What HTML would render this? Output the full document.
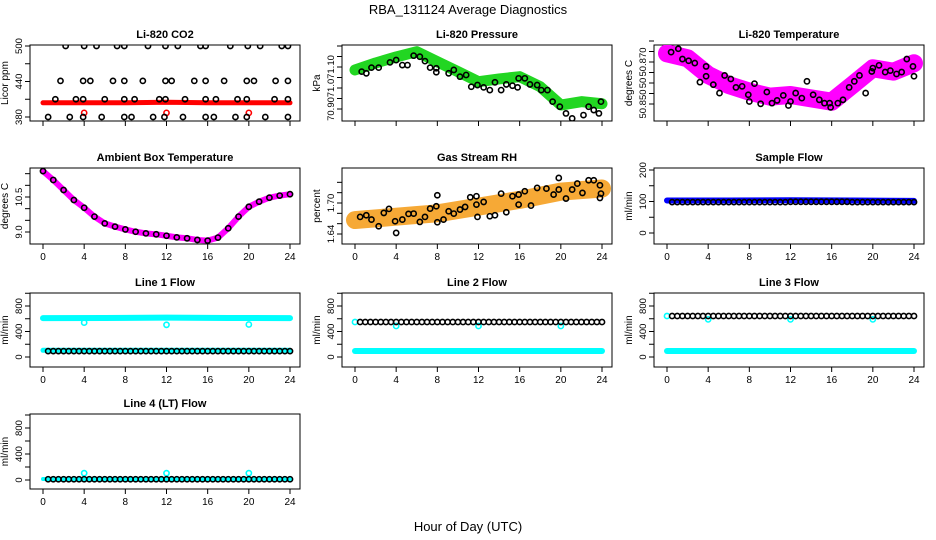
<!DOCTYPE html>
<html><head><meta charset="utf-8"><style>
body{margin:0;background:#fff;width:936px;height:540px;overflow:hidden}
svg{display:block;font-family:"Liberation Sans",sans-serif}
</style></head><body>
<svg id="chart" width="936" height="540" viewBox="0 0 936 540">
<text x="468" y="14" text-anchor="middle" font-size="13">RBA_131124  Average Diagnostics</text>
<text x="468" y="531" text-anchor="middle" font-size="13">Hour of Day (UTC)</text>
</svg>
<script>
// ---- data ----
const xTicks=[0,4,8,12,16,20,24];
const co2T500=[2.2,4.0,5.2,7.2,7.9,10.2,11.9,13.1,15.3,15.8,18.2,19.9,21.1,23.2,23.8];
const co2T440=[1.7,3.9,4.6,6.8,7.9,9.7,11.9,12.5,14.7,15.8,17.6,19.8,20.5,22.6,23.8];
const co2T410=[1.2,3.2,3.9,6.0,7.9,8.9,11.3,11.9,13.8,15.8,16.8,18.9,19.8,22.5,23.8];
const co2T380=[0.5,2.6,3.9,5.7,7.9,8.6,10.7,11.8,13.6,15.8,16.6,18.7,19.8,21.6,23.8];
const co2RedHours=[0,4,8,12,16,20,24];
const co2RedVals=[404,404,404,405,404,404,404];
const co2RedOutT=[4,12,20];
const co2RedOutV=[387,387,387];
const presHours=[0,2,4,6,8,10,12,14,16,18,20,22,24];
const presGreen=[71.086,71.119,71.148,71.173,71.125,71.078,71.030,71.043,71.054,71.006,70.919,70.935,70.925];
const presBlkT=[0.65,1.1,1.6,2.3,3.4,4.0,4.6,5.1,5.7,6.3,6.8,7.3,7.9,7.9,9.1,9.6,10.2,10.8,11.3,11.9,12.5,13.1,13.6,14.2,14.7,15.3,15.8,15.9,16.5,17.0,17.7,18.1,18.7,19.2,19.9,20.5,21.1,22.2,22.7,23.2,23.7,23.9];
const presBlkV=[71.078,71.070,71.097,71.097,71.122,71.133,71.109,71.109,71.154,71.149,71.128,71.097,71.094,71.075,71.070,71.086,71.054,71.062,71.006,71.014,71.003,70.990,71.027,70.990,71.017,71.011,71.003,71.046,71.046,71.017,71.014,70.990,70.990,70.935,70.911,70.879,70.855,70.871,70.911,70.895,70.879,70.935];
const tempHours=[0,2,4,6,8,10,12,14,16,18,20,22,24];
const tempMag=[50.8741,50.8718,50.8638,50.8590,50.8559,50.8535,50.8543,50.8527,50.8511,50.8590,50.8670,50.8654,50.8694];
const tempBlkT=[0.4,1.1,1.5,2.1,2.7,3.2,3.8,3.8,4.5,5.1,5.6,6.2,6.7,7.3,7.9,8.0,8.5,9.1,9.7,10.2,10.7,11.3,11.8,12.0,12.5,13.1,13.6,14.2,14.8,15.3,15.8,15.9,16.6,17.1,17.7,18.2,18.7,19.3,19.9,20.0,20.6,21.2,21.7,22.3,22.8,23.3,23.9,24.0];
const tempBlkV=[50.8747,50.8763,50.8714,50.8706,50.8695,50.8604,50.8679,50.8632,50.8592,50.8552,50.8636,50.8619,50.8579,50.8584,50.8544,50.8512,50.8597,50.8501,50.8557,50.8504,50.8517,50.8541,50.8493,50.8512,50.8552,50.8528,50.8608,50.8544,50.8520,50.8504,50.8504,50.8484,50.8504,50.8520,50.8579,50.8608,50.8636,50.8552,50.8655,50.8671,50.8684,50.8652,50.8659,50.8643,50.8652,50.8714,50.8679,50.8632];
const ambHours=[0,1,2,3,4,5,6,7,8,9,10,11,12,13,14,15,16,17,18,19,20,21,22,23,24];
const ambVals=[11.61,11.23,10.80,10.37,10.04,9.66,9.37,9.23,9.11,9.01,8.94,8.90,8.84,8.77,8.73,8.66,8.63,8.76,9.16,9.66,10.08,10.30,10.47,10.56,10.62];
const rhHours=[0,4,8,12,16,20,24];
const rhBand=[1.667,1.6735,1.680,1.693,1.706,1.722,1.728];
const rhBlkT=[0.5,1.1,1.6,2.3,2.8,3.3,3.9,4.0,4.6,5.2,5.7,6.3,6.8,7.3,7.9,8.0,8.0,8.6,9.1,9.6,10.2,10.7,11.2,11.8,11.8,11.9,12.5,13.1,13.6,14.2,14.7,15.3,15.9,15.9,16.5,17.1,17.7,18.6,19.3,19.8,19.8,20.5,21.1,21.6,22.1,22.7,23.2,23.8,23.9,23.8];
const rhBlkV=[1.6731,1.6763,1.6679,1.6550,1.6808,1.6886,1.6647,1.6421,1.6679,1.6789,1.6795,1.6634,1.6731,1.6892,1.6937,1.7150,1.6627,1.6679,1.6840,1.6795,1.6873,1.6924,1.7111,1.7131,1.6969,1.6731,1.7021,1.6744,1.6763,1.7182,1.6821,1.7131,1.7163,1.6969,1.7227,1.6950,1.7292,1.7279,1.7163,1.7260,1.7485,1.7086,1.7260,1.7376,1.7195,1.7440,1.7440,1.7343,1.7182,1.7098];
const flowHours=[0,6,12,18,24];
const sampleBlue=[103,103,104,103,102];
const sampleBlack=[98,98,99,98,98];
const line1Cyan=[610,612,618,612,610];
const line1Low=[105,105,105,105,105];
const line1Black=[92,92,92,92,92];
const line2Cyan=[94,94,94,94,94];
const line2Black=[549,549,549,549,549];
const line3Cyan=[94,94,94,94,94];
const line3Black=[643,643,643,643,643];
const line4Cyan=[15,15,15,15,15];
const line4Black=[12,12,12,12,12];
const outT=[4,12,20];
const line1Out=[540,505,510];
const line2Out=[486,486,486];
const line3Out=[590,590,590];
const line4Out=[105,105,105];

// ---- layout ----
const NS='http://www.w3.org/2000/svg';
const svg=document.getElementById('chart');
const colL=[30,342,654], W=270;
const rowT=[45,168,293,414], rowB=[121,244,367,489];
function el(tag,attrs,parent){const e=document.createElementNS(NS,tag);for(const k in attrs)e.setAttribute(k,attrs[k]);(parent||svg).appendChild(e);return e;}
function makePanel(name,c,r,title,ylab,v1,p1,v2,p2,yt,ylabels,showX){
  const g=el('g',{});
  
  
  const L=colL[c],T=rowT[r],B=rowB[r];
  const sx=h=>L+13+h*247/24;
  const sy=v=>p1+(v-v1)*(p2-p1)/(v2-v1);
  const t=el('text',{x:L+W/2,y:T-7,'text-anchor':'middle','font-size':11,'font-weight':'bold'},g);t.textContent=title;
  
  const box=el('rect',{x:L,y:T,width:W,height:B-T,fill:'none',stroke:'#000','stroke-width':1},g);
  
  const xa=el('g',{},g);
  xTicks.forEach(h=>{el('line',{x1:sx(h),x2:sx(h),y1:B,y2:B+5,stroke:'#000'},xa);
    if(showX){const tx=el('text',{x:sx(h),y:B+16,'text-anchor':'middle','font-size':10},xa);tx.textContent=h;}});
  const ya=el('g',{},g);
  yt.forEach(v=>el('line',{x1:L-5,x2:L,y1:sy(v),y2:sy(v),stroke:'#000'},ya));
  ylabels.forEach(v=>{const y=sy(v[0]);const tx=el('text',{x:L-8,y:y,'text-anchor':'middle','font-size':9.5,transform:`rotate(-90 ${L-8} ${y})`},ya);tx.textContent=v[1];});
  const yl=el('text',{x:L-22,y:(T+B)/2,'text-anchor':'middle','font-size':10,transform:`rotate(-90 ${L-22} ${(T+B)/2})`},g);yl.textContent=ylab;
  
  const clip='clip'+name;const cp=el('clipPath',{id:clip},g);el('rect',{x:L,y:T,width:W,height:B-T},cp);
  const data=el('g',{'clip-path':`url(#${clip})`},g);
  return {sx,sy,g:data};
}
function band(P,xs,vs,color,w,name,op){
  const pts=xs.map((h,i)=>P.sx(h)+','+P.sy(vs[i])).join(' ');
  const e=el('polyline',{points:pts,fill:'none',stroke:color,'stroke-width':w,'stroke-linejoin':'round','stroke-linecap':'round','stroke-opacity':op||1},P.g);
  
  
}
function pts(P,xs,vs,color,name,r,sw){
  const gg=el('g',{},P.g);
  
  
  xs.forEach((h,i)=>el('circle',{cx:P.sx(h),cy:P.sy(vs[i]),r:r||2.6,fill:'none',stroke:color,'stroke-width':sw||1.6},gg));
}
function stepPts(P,hours,vals,color,name,start,step){
  const ts=[],vs=[];
  for(let t=start;t<=24.01;t+=step){let k=0;for(let i=0;i<hours.length;i++)if(hours[i]<=t)k=i;ts.push(t);vs.push(vals[k]);}
  pts(P,ts,vs,color,name);
}
const L=a=>a.map(v=>[v,String(v)]);

// Panel 1: CO2
let P=makePanel('co2',0,0,'Li-820 CO2','Licor ppm',500,46,380,117,[380,410,440,470,500],L([380,440,500]),false);
band(P,co2RedHours,co2RedVals,'#ff0000',5,'co2-red-series');
pts(P,co2RedOutT,co2RedOutV,'#ff0000','co2-red-outliers');
pts(P,co2T500,co2T500.map(()=>500),'#000','co2-points-500');
pts(P,co2T440,co2T440.map(()=>441),'#000','co2-points-440');
pts(P,co2T410,co2T410.map(()=>410),'#000','co2-points-410');
pts(P,co2T380,co2T380.map(()=>380),'#000','co2-points-380');

// Panel 2: Pressure
P=makePanel('pressure',1,0,'Li-820 Pressure','kPa',71.10,67,70.90,109,[70.90,70.95,71.00,71.05,71.10,71.15,71.20],[[70.90,'70.90'],[71.00,'71.0'],[71.10,'71.10']],false);
band(P,presHours,presGreen,'#22d622',11,'pressure-green-series');
pts(P,presBlkT,presBlkV,'#000','pressure-black-series');

// Panel 3: Temperature
P=makePanel('temperature',2,0,'Li-820 Temperature','degrees C',50.870,62,50.850,104,[50.850,50.855,50.860,50.865,50.870,50.875,50.880],[[50.850,'50.850'],[50.860,'50'],[50.870,'50.870']],false);
band(P,tempHours,tempMag,'#ff00ff',18,'temperature-magenta-series');
pts(P,tempBlkT,tempBlkV,'#000','temperature-black-series');

// Panel 4: Ambient
P=makePanel('ambient',0,1,'Ambient Box Temperature','degrees C',10.5,197,9.0,232,[9.0,9.5,10.0,10.5,11.0,11.5],[[9.0,'9.0'],[10.5,'10.5']],true);
band(P,ambHours,ambVals,'#ff00ff',6,'ambient-magenta-series');
pts(P,ambHours,ambVals,'#000','ambient-black-series');

// Panel 5: RH
P=makePanel('rh',1,1,'Gas Stream RH','percent',1.70,203,1.64,234,[1.64,1.66,1.68,1.70,1.72,1.74],[[1.64,'1.64'],[1.70,'1.70']],true);
band(P,rhHours,rhBand,'#f5a020',18,'rh-orange-series',0.9);
pts(P,rhBlkT,rhBlkV,'#000','rh-black-series');

// Panel 6: Sample Flow
P=makePanel('sample-flow',2,1,'Sample Flow','ml/min',200,170,0,233,[0,50,100,150,200],L([0,100,200]),true);
band(P,flowHours,sampleBlue,'#0000ff',6,'sample-blue-series');
stepPts(P,flowHours,sampleBlack,'#000','sample-black-series',0.5,0.5);

// Panel 7: Line 1
P=makePanel('line1',0,2,'Line 1 Flow','ml/min',800,306,0,357,[0,200,400,600,800,1000],L([0,400,800]),true);
band(P,flowHours,line1Cyan,'#00ffff',6,'line1-cyan-series');
band(P,flowHours,line1Low,'#00ffff',5,'line1-cyan-low-series');
pts(P,outT,line1Out,'#00ffff','line1-cyan-outliers');
stepPts(P,flowHours,line1Black,'#000','line1-black-series',0.5,0.5);

// Panel 8: Line 2
P=makePanel('line2',1,2,'Line 2 Flow','ml/min',800,306,0,357,[0,200,400,600,800,1000],L([0,400,800]),true);
band(P,flowHours,line2Cyan,'#00ffff',6,'line2-cyan-series');
pts(P,[0],[549],'#00ffff','line2-cyan-start');
pts(P,outT,line2Out,'#00ffff','line2-cyan-outliers');
stepPts(P,flowHours,line2Black,'#000','line2-black-series',0.5,0.5);

// Panel 9: Line 3
P=makePanel('line3',2,2,'Line 3 Flow','ml/min',800,306,0,357,[0,200,400,600,800,1000],L([0,400,800]),true);
band(P,flowHours,line3Cyan,'#00ffff',6,'line3-cyan-series');
pts(P,[0],[643],'#00ffff','line3-cyan-start');
pts(P,outT,line3Out,'#00ffff','line3-cyan-outliers');
stepPts(P,flowHours,line3Black,'#000','line3-black-series',0.5,0.5);

// Panel 10: Line 4
P=makePanel('line4',0,3,'Line 4 (LT) Flow','ml/min',800,428,0,480,[0,200,400,600,800,1000],L([0,400,800]),true);
band(P,flowHours,line4Cyan,'#00ffff',4,'line4-cyan-series');
pts(P,outT,line4Out,'#00ffff','line4-cyan-outliers');
stepPts(P,flowHours,line4Black,'#000','line4-black-series',0.5,0.5);
</script>
</body></html>
